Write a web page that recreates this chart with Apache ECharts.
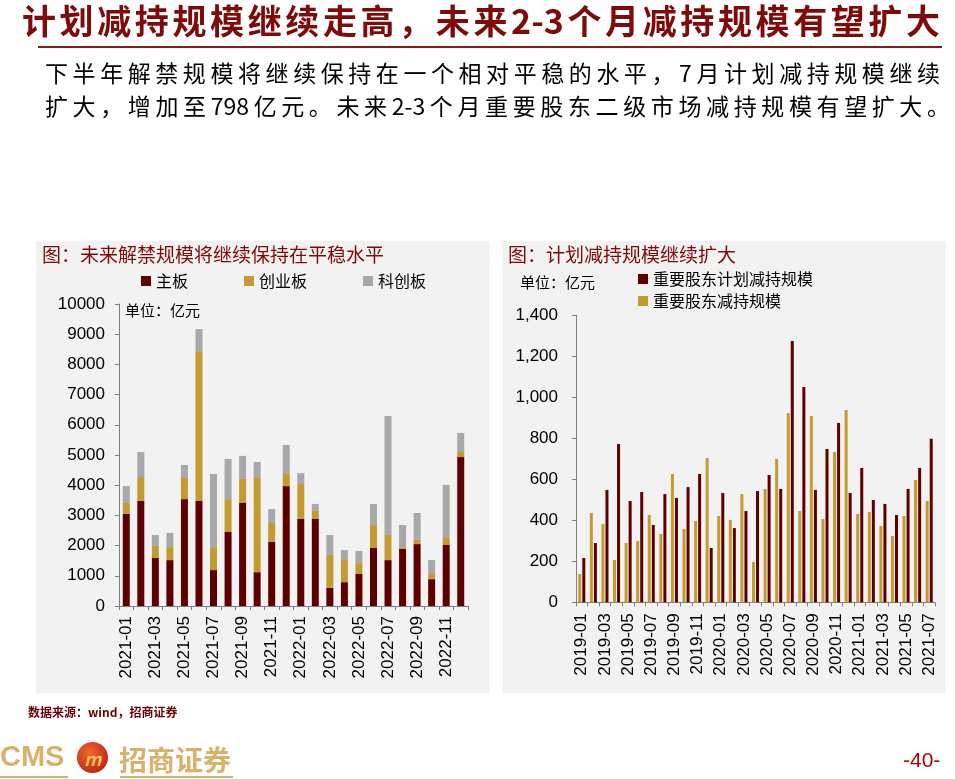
<!DOCTYPE html>
<html><head><meta charset="utf-8">
<script src="https://cdn.jsdelivr.net/npm/echarts@6/dist/echarts.min.js"></script>
<style>
html,body{margin:0;padding:0;background:#fff;width:955px;height:779px;overflow:hidden;}
#c{position:absolute;left:0;top:0;width:955px;height:779px;}
.t{position:absolute;white-space:nowrap;font-family:"Noto Sans CJK SC",sans-serif;}
.j{text-align:justify;text-align-last:justify;white-space:normal;}
</style></head><body>
<div id="c"></div>
<div class="t j" style="left:22px;top:-2px;width:918px;font-size:34px;font-weight:700;color:#7F0A0A;line-height:44px;">计划减持规模继续走高，未来2-3个月减持规模有望扩大</div>
<div style="position:absolute;left:38px;top:46px;width:904px;height:2px;background:#8B1A1A;"></div>
<div class="t j" style="left:45px;top:55px;width:895px;font-size:23px;color:#000;line-height:34px;">下半年解禁规模将继续保持在一个相对平稳的水平，7月计划减持规模继续</div>
<div class="t j" style="left:45px;top:88px;width:905px;font-size:23px;color:#000;line-height:34px;">扩大，增加至798亿元。未来2-3个月重要股东二级市场减持规模有望扩大。</div>
<div class="t" style="left:28px;top:703px;font-size:12px;font-weight:700;color:#6B0000;">数据来源：wind，招商证券</div>
<div class="t" style="left:0px;top:740px;font-size:29px;font-weight:700;font-family:'Liberation Sans',sans-serif;color:#D8B26A;">CMS</div>
<div style="position:absolute;left:77px;top:742px;width:31px;height:31px;border-radius:50%;background:radial-gradient(circle at 40% 35%,#F06A2A,#B01010);"></div>
<div class="t" style="left:84px;top:745px;font-size:18px;font-weight:700;color:#F5C060;font-style:italic;">m</div>
<div class="t" style="left:119px;top:739px;font-size:28px;font-weight:700;color:#D8B26A;">招商证券</div>
<div style="position:absolute;left:0;top:776px;width:68px;height:2px;background:#D8B26A;"></div>
<div style="position:absolute;left:120px;top:776px;width:113px;height:2px;background:#D8B26A;"></div>
<div class="t" style="left:903px;top:748px;font-size:21px;font-family:'Liberation Sans Narrow','Liberation Sans',sans-serif;color:#B00000;">-40-</div>
<script>
// Left chart data (亿元)
var unlockMonths = ['2021-01','2021-02','2021-03','2021-04','2021-05','2021-06','2021-07','2021-08','2021-09','2021-10','2021-11','2021-12',
  '2022-01','2022-02','2022-03','2022-04','2022-05','2022-06','2022-07','2022-08','2022-09','2022-10','2022-11','2022-12'];
var mainBoard = [3050,3480,1590,1520,3540,3480,1190,2450,3410,1120,2120,3970,2880,2880,600,790,1060,1920,1520,1890,2050,890,2020,4930];
var chinext   = [360,790,400,430,700,4930,760,1060,800,3120,630,430,1160,270,1090,730,360,760,830,60,140,170,260,170];
var star      = [560,830,360,470,430,760,2420,1360,760,530,460,930,360,230,660,330,400,700,3940,730,890,460,1730,630];
// Right chart data (亿元)
var reduceMonths = ['2019-01','2019-02','2019-03','2019-04','2019-05','2019-06','2019-07','2019-08','2019-09','2019-10','2019-11','2019-12',
  '2020-01','2020-02','2020-03','2020-04','2020-05','2020-06','2020-07','2020-08','2020-09','2020-10','2020-11','2020-12',
  '2021-01','2021-02','2021-03','2021-04','2021-05','2021-06','2021-07'];
var plannedReduce = [216,289,548,772,494,538,377,528,509,562,626,265,533,362,445,543,621,553,1275,1050,548,748,875,533,655,499,480,426,553,655,798];
var actualReduce  = [138,436,382,206,289,299,426,333,626,358,397,704,421,401,528,197,553,699,923,445,909,406,733,938,431,440,372,323,421,597,494];

var DARK='#5E0000', GOLD='#C39B30', GRAY='#A8A8A8';
var AX='#7F7F7F';
var cjk='"Noto Sans CJK SC", sans-serif';
var lat='"Liberation Sans", Arial, sans-serif';

var chart = echarts.init(document.getElementById('c'), null, {renderer:'canvas'});
chart.setOption({
  animation:false,
  backgroundColor:'transparent',
  graphic:[
    {type:'rect',shape:{x:36,y:241,width:454,height:452},style:{fill:'#F2F2F2'},z:-10},
    {type:'rect',shape:{x:502,y:241,width:444,height:452},style:{fill:'#F2F2F2'},z:-10},
    {type:'text',left:42,top:245,style:{text:'图：未来解禁规模将继续保持在平稳水平',font:'19px '+cjk,fill:'#7F0A0A'}},
    {type:'text',left:508,top:245,style:{text:'图：计划减持规模继续扩大',font:'19px '+cjk,fill:'#7F0A0A'}},
    {type:'text',left:125,top:303,style:{text:'单位：亿元',font:'15px '+cjk,fill:'#000'}},
    {type:'text',left:520,top:275,style:{text:'单位：亿元',font:'15px '+cjk,fill:'#000'}}
  ],
  legend:[
    {left:136,top:268,itemWidth:10,itemHeight:10,itemGap:56,icon:'rect',
     textStyle:{fontFamily:cjk,fontSize:16,color:'#000'},data:['主板','创业板','科创板']},
    {left:633,top:266,orient:'vertical',itemWidth:10,itemHeight:10,itemGap:6,icon:'rect',
     textStyle:{fontFamily:cjk,fontSize:16,color:'#000'},data:['重要股东计划减持规模','重要股东减持规模']}
  ],
  grid:[
    {left:119,top:304,width:349,height:302},
    {left:576,top:315.3,width:359,height:287}
  ],
  xAxis:[
    {type:'category',gridIndex:0,data:unlockMonths,boundaryGap:true,
     axisLine:{lineStyle:{color:AX,width:1}},axisTick:{show:true,interval:0,length:4,lineStyle:{color:AX}},
     axisLabel:{interval:1,rotate:90,fontFamily:lat,fontSize:17,color:'#000',margin:10}},
    {type:'category',gridIndex:1,data:reduceMonths,boundaryGap:true,
     axisLine:{lineStyle:{color:AX,width:1}},axisTick:{show:true,interval:0,length:4,lineStyle:{color:AX}},
     axisLabel:{interval:1,rotate:90,fontFamily:lat,fontSize:17,color:'#000',margin:11}}
  ],
  yAxis:[
    {type:'value',gridIndex:0,min:0,max:10000,interval:1000,
     axisLine:{show:true,lineStyle:{color:AX}},axisTick:{show:true,length:4,lineStyle:{color:AX}},splitLine:{show:false},
     axisLabel:{fontFamily:lat,fontSize:17,color:'#000',margin:14,formatter:function(v){return String(v);}}},
    {type:'value',gridIndex:1,min:0,max:1400,interval:200,
     axisLine:{show:true,lineStyle:{color:AX}},axisTick:{show:true,length:4,lineStyle:{color:AX}},splitLine:{show:false},
     axisLabel:{fontFamily:lat,fontSize:17,color:'#000',margin:18,
       formatter:function(v){return v.toString().replace(/\B(?=(\d{3})+(?!\d))/g,',');}}}
  ],
  series:[
    {name:'主板',type:'bar',stack:'a',xAxisIndex:0,yAxisIndex:0,barWidth:7,data:mainBoard,itemStyle:{color:DARK}},
    {name:'创业板',type:'bar',stack:'a',xAxisIndex:0,yAxisIndex:0,barWidth:7,data:chinext,itemStyle:{color:GOLD}},
    {name:'科创板',type:'bar',stack:'a',xAxisIndex:0,yAxisIndex:0,barWidth:7,data:star,itemStyle:{color:GRAY}},
    {name:'重要股东减持规模',type:'bar',xAxisIndex:1,yAxisIndex:1,barWidth:3,barGap:'35%',data:actualReduce,itemStyle:{color:GOLD}},
    {name:'重要股东计划减持规模',type:'bar',xAxisIndex:1,yAxisIndex:1,barWidth:3,barGap:'35%',data:plannedReduce,itemStyle:{color:DARK}}
  ]
});
</script>
</body></html>
